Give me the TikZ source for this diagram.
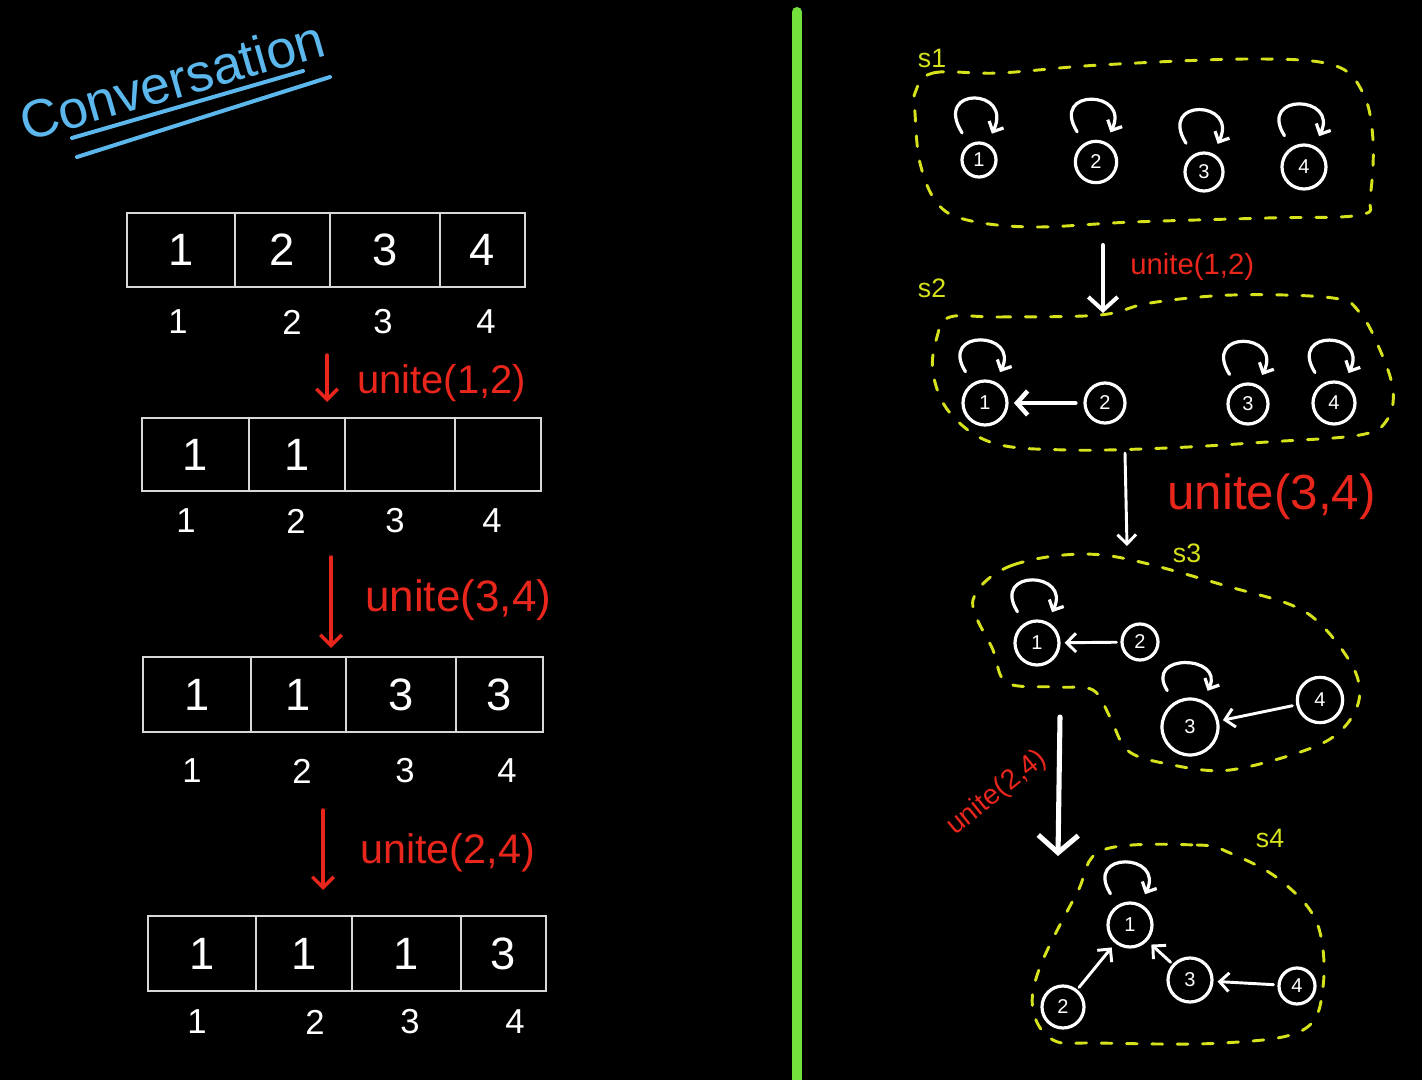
\documentclass[tikz,border=0pt]{standalone}
\usepackage{fontspec}
\setmainfont{Liberation Sans}
\usetikzlibrary{arrows.meta,calc}
\definecolor{chalkred}{HTML}{E8261C}
\definecolor{chalkyel}{HTML}{D6E21C}
\definecolor{chalkblue}{HTML}{5CB8EC}
\definecolor{chalkgreen}{HTML}{74E03C}
\definecolor{gridgrey}{HTML}{D8D8D8}
\newcommand\fs[1]{\fontsize{#1}{#1}\selectfont}
\newcommand\selfloop[1]{\draw[loopy, shorten <=10pt, shorten >=8pt] (#1) .. controls +(122:66pt) and +(64:60pt) .. (#1);}
\begin{document}
\begin{tikzpicture}[x=0.75pt,y=-0.75pt,
  cell/.style={draw=gridgrey, line width=1.8pt, minimum height=55.5pt, inner sep=0pt, text=white, font=\fs{34}},
  idx/.style={text=white, font=\fs{26}, inner sep=0pt},
  redlbl/.style={text=chalkred, font=\fs{30}, inner sep=0pt, anchor=west},
  redarrow/.style={draw=chalkred, line width=2.6pt, line cap=round, -{Straight Barb[length=8pt,width=16pt,line width=2.6pt]}},
  vtx/.style={circle, draw=white, line width=2.4pt, inner sep=0pt, text=white, font=\fs{15}},
  loopy/.style={draw=white, line width=2.4pt, line cap=round, -{Straight Barb[length=6pt,width=12pt,line width=2.4pt]}},
  link/.style={draw=white, line width=2.2pt, line cap=round, -{Straight Barb[length=7pt,width=14pt,line width=2.2pt]}},
  bigarrow/.style={draw=white, line width=3pt, line cap=round, -{Straight Barb[length=10pt,width=22pt,line width=3pt]}},
  blob/.style={draw=chalkyel, line width=2.2pt, line cap=round, dash pattern=on 8pt off 11pt},
  slbl/.style={text=chalkyel, font=\fs{20}, inner sep=0pt}]
\fill[black] (0,0) rectangle (1422,1080);
\useasboundingbox (0,0) rectangle (1422,1080);

% divider
\draw[chalkgreen, line width=7.5pt, line cap=round] (797,12) -- (797,1090);

% title
\node[text=chalkblue, font=\fs{40}, rotate=16, inner sep=0pt] (title) at (172,80) {Conversation};
\coordinate (u1a) at (72,138); \coordinate (u1b) at (303,71);
\coordinate (u2a) at (77,157); \coordinate (u2b) at (330,77);
\draw[chalkblue, line width=3pt, line cap=round] (u1a) -- (u1b);
\draw[chalkblue, line width=3pt, line cap=round] (u2a) -- (u2b);

% array 1
\foreach \i/\cx/\w/\v in {1/181/81/1, 2/282.5/71.25/2, 3/385/82.5/3, 4/482.5/63.75/4}
  \node[cell, minimum width=\w pt] (aa\i) at (\cx,250) {\v};
\foreach \i/\cx in {1/178, 2/292, 3/383, 4/486}
  \node[idx] (ia\i) at (\cx,322) {\i};
% array 2
\foreach \i/\cx/\w/\v in {1/195.5/80.25/1, 2/297/72/1, 3/400/82.5/{}, 4/498/64.5/{}}
  \node[cell, minimum width=\w pt, minimum height=54.75pt] (ab\i) at (\cx,454.5) {\v};
\foreach \i/\cx in {1/186, 2/296, 3/395, 4/492}
  \node[idx] (ib\i) at (\cx,521) {\i};
% array 3
\foreach \i/\cx/\w/\v in {1/197/81/1, 2/298.5/71.25/1, 3/401/82.5/3, 4/499.5/65.25/3}
  \node[cell, minimum width=\w pt, minimum height=56.25pt] (ac\i) at (\cx,694.5) {\v};
\foreach \i/\cx in {1/192, 2/302, 3/405, 4/507}
  \node[idx] (ic\i) at (\cx,771) {\i};
% array 4
\foreach \i/\cx/\w/\v in {1/202/81/1, 2/304/72/1, 3/406.5/81.75/1, 4/503.5/63.75/3}
  \node[cell, minimum width=\w pt, minimum height=56.25pt] (ad\i) at (\cx,953.5) {\v};
\foreach \i/\cx in {1/197, 2/315, 3/410, 4/515}
  \node[idx] (id\i) at (\cx,1022) {\i};

% red steps
\coordinate (r1s) at (327,355); \coordinate (r1e) at (327,402);
\coordinate (r2s) at (331,557); \coordinate (r2e) at (331,648);
\coordinate (r3s) at (323,810); \coordinate (r3e) at (323,890);
\draw[redarrow] (r1s) -- (r1e);
\draw[redarrow] (r2s) -- (r2e);
\draw[redarrow] (r3s) -- (r3e);
\node[redlbl] (l1) at (357,383) {unite(1,2)};
\node[redlbl, font=\fs{33}] (l2) at (365,600) {unite(3,4)};
\node[redlbl, font=\fs{31}] (l3) at (360,853) {unite(2,4)};

% ---------- right side ----------
% S1
\draw[blob] plot[smooth cycle, tension=0.6] coordinates {(915,93) (933,73) (1000,73) (1100,65) (1250,59) (1333,65) (1363,93) (1373,140) (1370,197) (1360,215) (1267,218) (1133,222) (1033,227) (967,220) (937,203) (920,163) (915,113)};
\node[slbl] (s1) at (932,58) {s1};
\node[vtx, minimum size=25.5pt] (p1) at (979,160) {1};
\node[vtx, minimum size=31pt] (p2) at (1096,162) {2};
\node[vtx, minimum size=28.5pt] (p3) at (1204,172) {3};
\node[vtx, minimum size=33pt] (p4) at (1304,167) {4};
\selfloop{p1}\selfloop{p2}\selfloop{p3}\selfloop{p4}

\coordinate (t1s) at (1103,245); \coordinate (t1e) at (1103,313);
\draw[bigarrow] (t1s) -- (t1e);
\node[redlbl, font=\fs{22}] (m1) at (1130,267) {unite(1,2)};

% S2
\draw[blob] plot[smooth cycle, tension=0.6] coordinates {(950,317) (1000,317) (1100,315) (1150,303) (1233,295) (1333,298) (1360,313) (1380,350) (1393,390) (1387,420) (1360,435) (1267,442) (1167,448) (1067,450) (993,443) (950,413) (933,373) (937,337)};
\node[slbl] (s2) at (932,288) {s2};
\node[vtx, minimum size=33pt] (q1) at (985,403) {1};
\node[vtx, minimum size=30pt] (q2) at (1105,403) {2};
\node[vtx, minimum size=30pt] (q3) at (1248,404) {3};
\node[vtx, minimum size=31.5pt] (q4) at (1334,403) {4};
\selfloop{q1}\selfloop{q3}\selfloop{q4}
\draw[link, line width=3.4pt, -{Straight Barb[length=8pt,width=18pt,line width=3.4pt]}, shorten >=4pt, shorten <=6pt] (q2) -- (q1);

\coordinate (t2s) at (1125,453); \coordinate (t2e) at (1127,546);
\draw[bigarrow, line width=2.2pt, -{Straight Barb[length=7pt,width=14pt,line width=2.2pt]}] (t2s) -- (t2e);
\node[redlbl, font=\fs{37}] (m2) at (1167,497) {unite(3,4)};

% S3
\draw[blob] plot[smooth cycle, tension=0.55] coordinates {(973,600) (1013,565) (1103,555) (1230,587) (1307,613) (1353,667) (1357,707) (1323,743) (1230,770) (1163,763) (1127,750) (1110,717) (1093,690) (1057,687) (1007,683) (993,650)};
\node[slbl] (s3) at (1187,553) {s3};
\node[vtx, minimum size=33pt] (w1) at (1037,643) {1};
\node[vtx, minimum size=27pt] (w2) at (1140,642) {2};
\node[vtx, minimum size=42pt] (w3) at (1190,727) {3};
\node[vtx, minimum size=34pt] (w4) at (1320,700) {4};
\selfloop{w1}\selfloop{w3}
\draw[link, shorten >=3pt, shorten <=3pt] (w2) -- (w1);
\draw[link, shorten >=3pt, shorten <=3pt] (w4) -- (w3);

\coordinate (t3s) at (1060,717); \coordinate (t3e) at (1058,856);
\draw[bigarrow, line width=3.8pt, -{Straight Barb[length=13pt,width=30pt,line width=3.8pt]}] (t3s) -- (t3e);
\node[text=chalkred, font=\fs{21}, rotate=39, inner sep=0pt] (m3) at (997,793) {unite(2,4)};

% S4
\draw[blob] plot[smooth cycle, tension=0.6] coordinates {(1103,850) (1197,845) (1230,853) (1280,880) (1317,923) (1323,987) (1303,1030) (1223,1043) (1097,1043) (1053,1040) (1033,1010) (1040,967) (1077,893)};
\node[slbl] (s4) at (1270,838) {s4};
\node[vtx, minimum size=33pt] (z1) at (1130,925) {1};
\node[vtx, minimum size=31.5pt] (z2) at (1063,1007) {2};
\node[vtx, minimum size=33pt] (z3) at (1190,980) {3};
\node[vtx, minimum size=27pt] (z4) at (1297,986) {4};
\selfloop{z1}
\draw[link, shorten >=4pt, shorten <=2pt] (z2) -- (z1);
\draw[link, shorten >=4pt, shorten <=2pt] (z3) -- (z1);
\draw[link, shorten >=3pt, shorten <=3pt] (z4) -- (z3);
\end{tikzpicture}
\end{document}
